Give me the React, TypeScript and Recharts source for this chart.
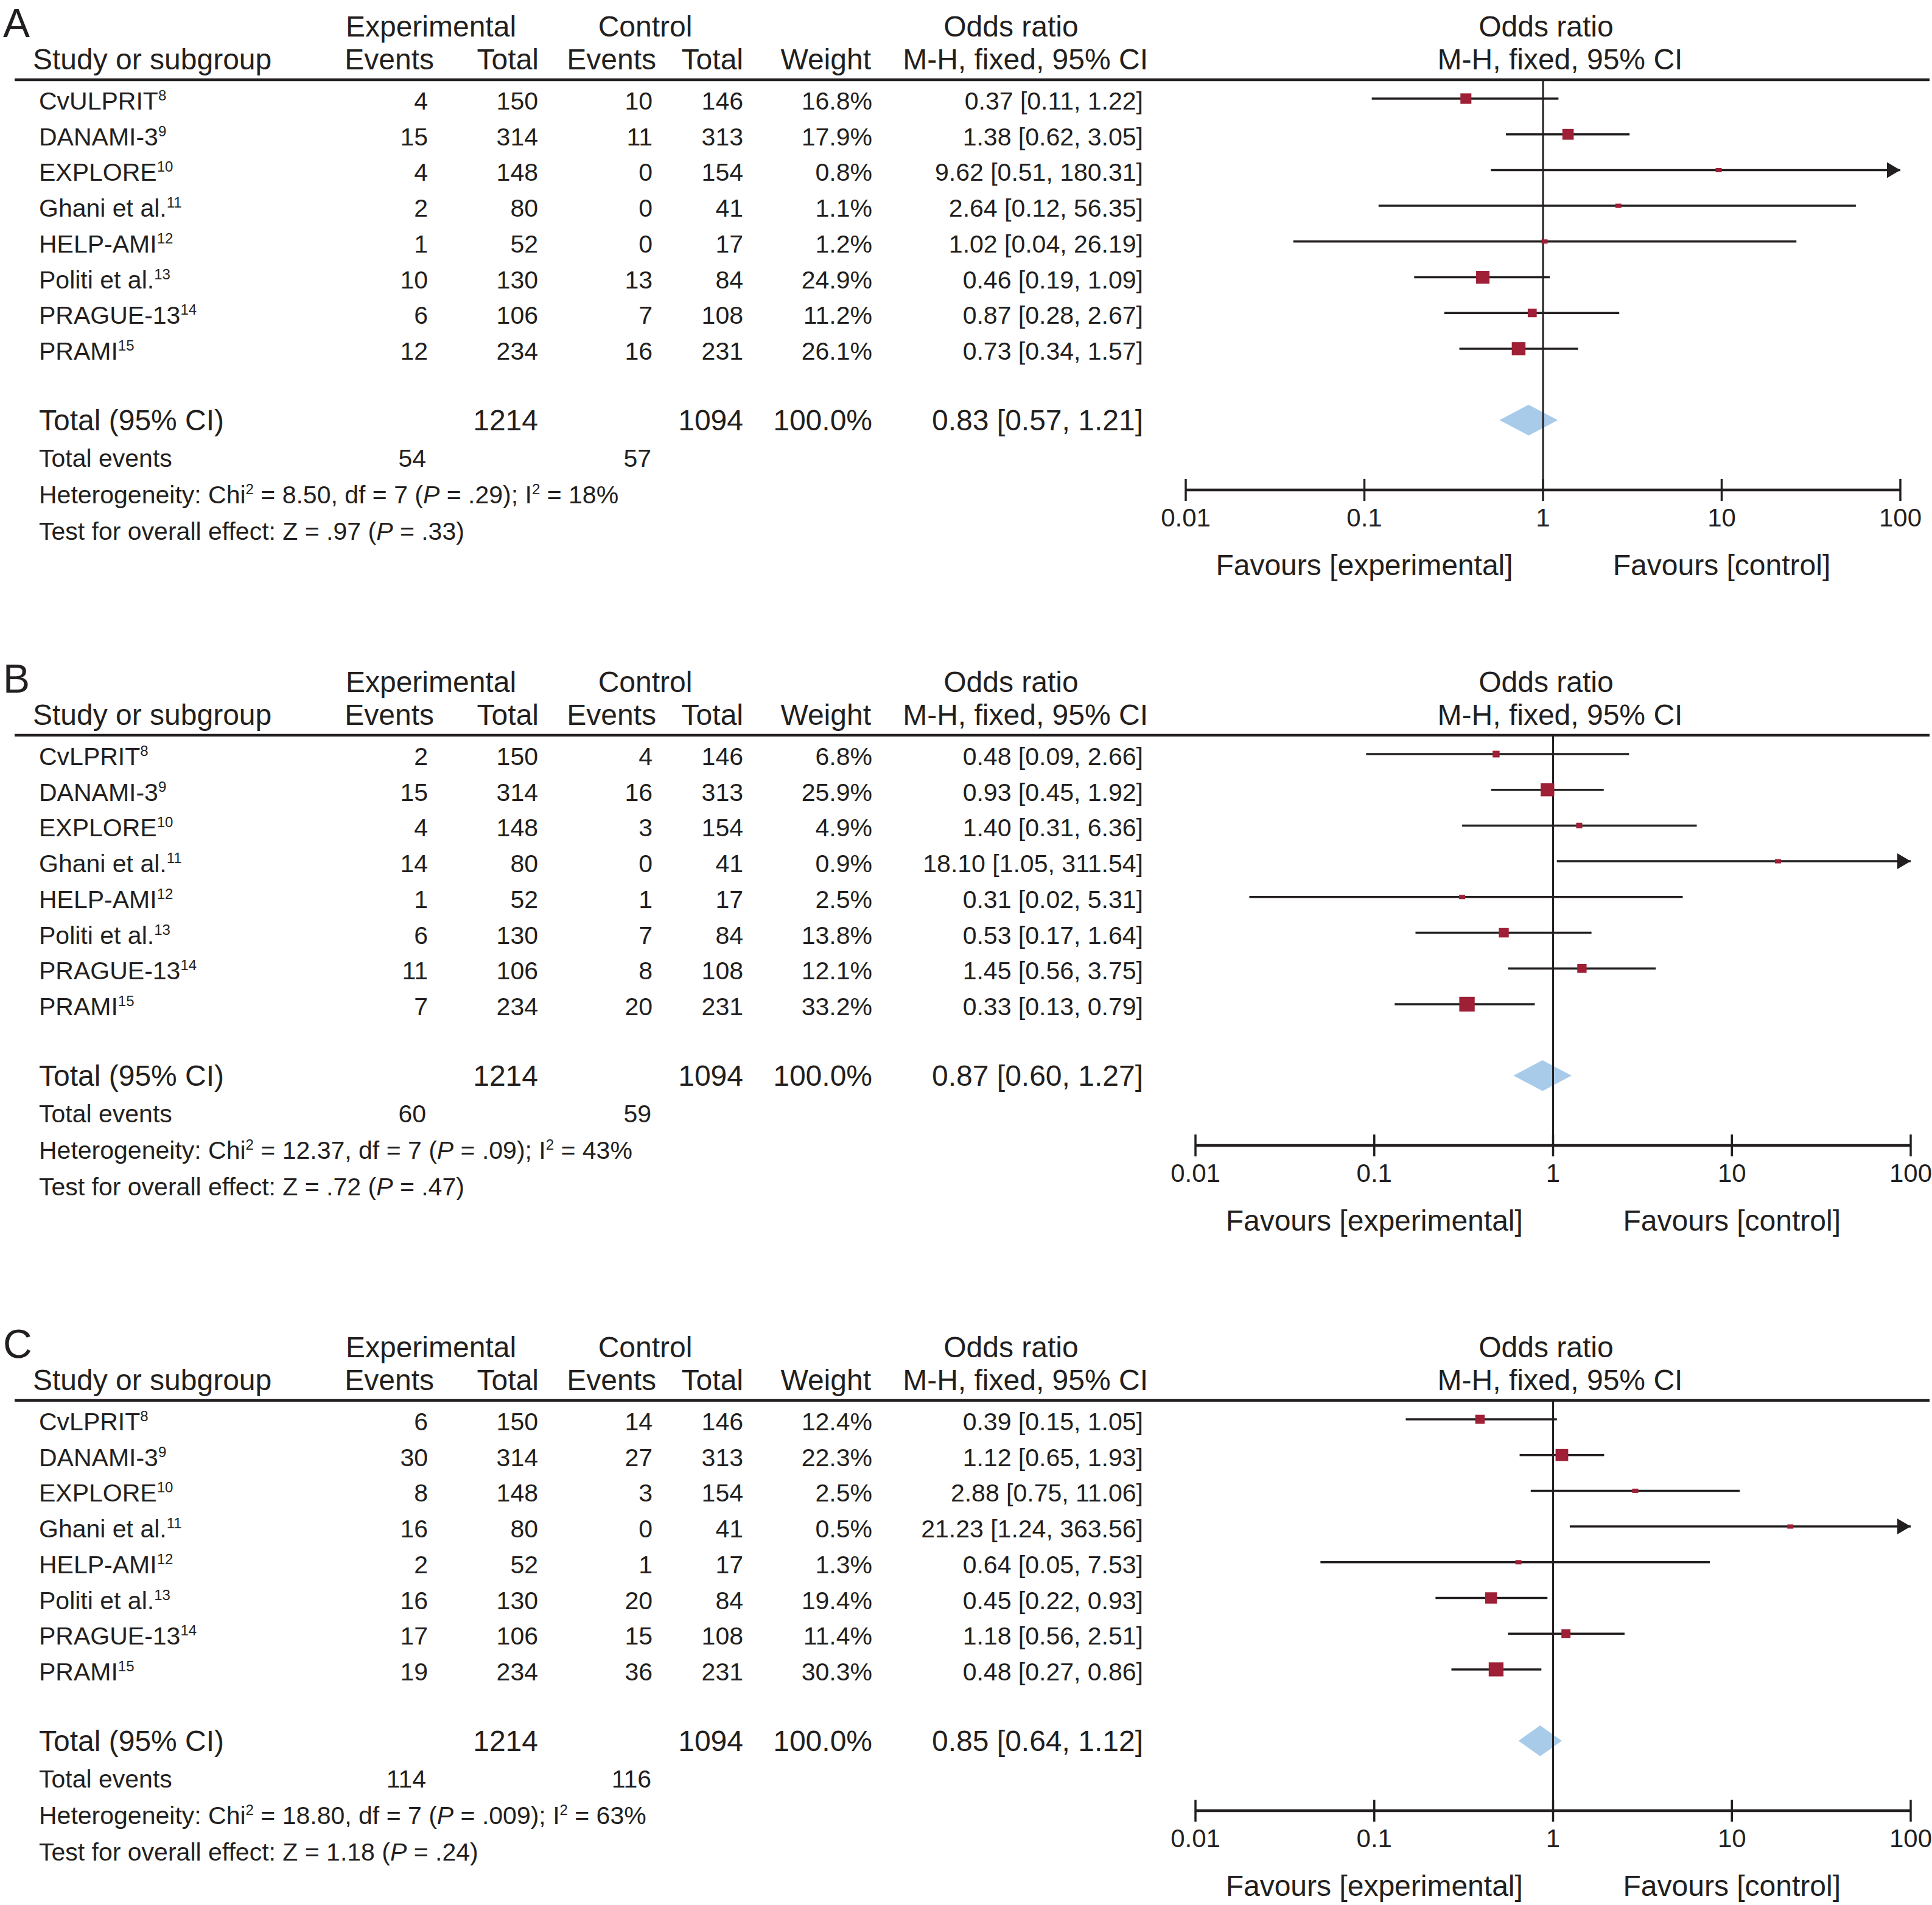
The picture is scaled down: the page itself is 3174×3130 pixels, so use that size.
import React from 'react';
import { ComposedChart, Scatter, XAxis, YAxis, ReferenceLine, ReferenceArea, Customized } from 'recharts';

// ---------- data ----------
const NAMES_A = ['CvULPRIT', 'DANAMI-3', 'EXPLORE', 'Ghani et al.', 'HELP-AMI', 'Politi et al.', 'PRAGUE-13', 'PRAMI'];
const NAMES_BC = ['CvLPRIT', 'DANAMI-3', 'EXPLORE', 'Ghani et al.', 'HELP-AMI', 'Politi et al.', 'PRAGUE-13', 'PRAMI'];
const REFS = ['8', '9', '10', '11', '12', '13', '14', '15'];
const EXP_TOTAL = [150, 314, 148, 80, 52, 130, 106, 234];
const CTL_TOTAL = [146, 313, 154, 41, 17, 84, 108, 231];
const SUM_EXP_TOTAL = 1214;
const SUM_CTL_TOTAL = 1094;

const A_EXP_EV = [4, 15, 4, 2, 1, 10, 6, 12];
const A_CTL_EV = [10, 11, 0, 0, 0, 13, 7, 16];
const A_WEIGHT = [16.8, 17.9, 0.8, 1.1, 1.2, 24.9, 11.2, 26.1];
const A_OR = [0.37, 1.38, 9.62, 2.64, 1.02, 0.46, 0.87, 0.73];
const A_LO = [0.11, 0.62, 0.51, 0.12, 0.04, 0.19, 0.28, 0.34];
const A_HI = [1.22, 3.05, 180.31, 56.35, 26.19, 1.09, 2.67, 1.57];
const A_TOTAL = [0.83, 0.57, 1.21];
const A_EVENTS = [54, 57];
const A_HET = ['8.50', '.29', '18%'];
const A_Z = ['.97', '.33'];

const B_EXP_EV = [2, 15, 4, 14, 1, 6, 11, 7];
const B_CTL_EV = [4, 16, 3, 0, 1, 7, 8, 20];
const B_WEIGHT = [6.8, 25.9, 4.9, 0.9, 2.5, 13.8, 12.1, 33.2];
const B_OR = [0.48, 0.93, 1.4, 18.1, 0.31, 0.53, 1.45, 0.33];
const B_LO = [0.09, 0.45, 0.31, 1.05, 0.02, 0.17, 0.56, 0.13];
const B_HI = [2.66, 1.92, 6.36, 311.54, 5.31, 1.64, 3.75, 0.79];
const B_TOTAL = [0.87, 0.6, 1.27];
const B_EVENTS = [60, 59];
const B_HET = ['12.37', '.09', '43%'];
const B_Z = ['.72', '.47'];

const C_EXP_EV = [6, 30, 8, 16, 2, 16, 17, 19];
const C_CTL_EV = [14, 27, 3, 0, 1, 20, 15, 36];
const C_WEIGHT = [12.4, 22.3, 2.5, 0.5, 1.3, 19.4, 11.4, 30.3];
const C_OR = [0.39, 1.12, 2.88, 21.23, 0.64, 0.45, 1.18, 0.48];
const C_LO = [0.15, 0.65, 0.75, 1.24, 0.05, 0.22, 0.56, 0.27];
const C_HI = [1.05, 1.93, 11.06, 363.56, 7.53, 0.93, 2.51, 0.86];
const C_TOTAL = [0.85, 0.64, 1.12];
const C_EVENTS = [114, 116];
const C_HET = ['18.80', '.009', '63%'];
const C_Z = ['1.18', '.24'];

const X_TICKS = [0.01, 0.1, 1, 10, 100];

// ---------- style / layout ----------
const INK = '#231f20';
const SQUARE = '#9e1f36';
const DIAMOND = '#a9cbea';
const FONT = '"Liberation Sans", Arial, Helvetica, sans-serif';
const W = 3174;
const PLOT_TOP = 131;
const PLOT_BOTTOM = 805;
const ROW0 = 162;
const ROWH = 58.7;
const TOTAL_ROW = 9;
const XAXIS_H = 150;
const Y_DOMAIN = [(PLOT_TOP - ROW0) / ROWH, (PLOT_BOTTOM - ROW0) / ROWH];
const rowY = (r: number) => ROW0 + r * ROWH;

const COL = { name: 64, expEv: 703, expTot: 884, ctlEv: 1072, ctlTot: 1221, weight: 1433, or: 1878 };

const PANELS = [
  { letter: 'A', top: 0, height: 1077, plotLeft: 1948, plotRight: 3122, names: NAMES_A, expEv: A_EXP_EV, ctlEv: A_CTL_EV, weight: A_WEIGHT, or: A_OR, lo: A_LO, hi: A_HI, total: A_TOTAL, events: A_EVENTS, het: A_HET, z: A_Z },
  { letter: 'B', top: 1077, height: 1077, plotLeft: 1964, plotRight: 3139, names: NAMES_BC, expEv: B_EXP_EV, ctlEv: B_CTL_EV, weight: B_WEIGHT, or: B_OR, lo: B_LO, hi: B_HI, total: B_TOTAL, events: B_EVENTS, het: B_HET, z: B_Z },
  { letter: 'C', top: 2170, height: 960, plotLeft: 1964, plotRight: 3139, names: NAMES_BC, expEv: C_EXP_EV, ctlEv: C_CTL_EV, weight: C_WEIGHT, or: C_OR, lo: C_LO, hi: C_HI, total: C_TOTAL, events: C_EVENTS, het: C_HET, z: C_Z },
];

const f2 = (v: number) => v.toFixed(2);
const orText = (o: number, l: number, h: number) => `${f2(o)} [${f2(l)}, ${f2(h)}]`;

function TableLayer({ p }: any) {
  const S = 41;
  const L = 48;
  const sup = (t: string) => (
    <tspan fontSize={24} dy={-15}>{t}</tspan>
  );
  const totY = rowY(TOTAL_ROW) + 17;
  return (
    <g fontFamily={FONT} fill={INK}>
      <text x={5} y={61} fontSize={66}>{p.letter}</text>
      <text x={708} y={60} fontSize={L} textAnchor="middle">Experimental</text>
      <text x={1060} y={60} fontSize={L} textAnchor="middle">Control</text>
      <text x={1661} y={60} fontSize={L} textAnchor="middle">Odds ratio</text>
      <text x={2540} y={60} fontSize={L} textAnchor="middle">Odds ratio</text>
      <text x={54} y={114} fontSize={L}>Study or subgroup</text>
      <text x={713} y={114} fontSize={L} textAnchor="end">Events</text>
      <text x={885} y={114} fontSize={L} textAnchor="end">Total</text>
      <text x={1078} y={114} fontSize={L} textAnchor="end">Events</text>
      <text x={1221} y={114} fontSize={L} textAnchor="end">Total</text>
      <text x={1431} y={114} fontSize={L} textAnchor="end">Weight</text>
      <text x={1886} y={114} fontSize={L} textAnchor="end">M-H, fixed, 95% CI</text>
      <text x={2563} y={114} fontSize={L} textAnchor="middle">M-H, fixed, 95% CI</text>
      <line x1={24} x2={3170} y1={PLOT_TOP} y2={PLOT_TOP} stroke={INK} strokeWidth={4.5} />
      {p.names.map((n: string, i: number) => {
        const y = rowY(i) + 18;
        return (
          <g key={i}>
            <text x={COL.name} y={y} fontSize={S}>{n}{sup(REFS[i])}</text>
            <text x={COL.expEv} y={y} fontSize={S} textAnchor="end">{p.expEv[i]}</text>
            <text x={COL.expTot} y={y} fontSize={S} textAnchor="end">{EXP_TOTAL[i]}</text>
            <text x={COL.ctlEv} y={y} fontSize={S} textAnchor="end">{p.ctlEv[i]}</text>
            <text x={COL.ctlTot} y={y} fontSize={S} textAnchor="end">{CTL_TOTAL[i]}</text>
            <text x={COL.weight} y={y} fontSize={S} textAnchor="end">{p.weight[i].toFixed(1)}%</text>
            <text x={COL.or} y={y} fontSize={S} textAnchor="end">{orText(p.or[i], p.lo[i], p.hi[i])}</text>
          </g>
        );
      })}
      <text x={COL.name} y={totY} fontSize={L}>Total (95% CI)</text>
      <text x={COL.expTot} y={totY} fontSize={L} textAnchor="end">{SUM_EXP_TOTAL}</text>
      <text x={COL.ctlTot} y={totY} fontSize={L} textAnchor="end">{SUM_CTL_TOTAL}</text>
      <text x={COL.weight} y={totY} fontSize={L} textAnchor="end">100.0%</text>
      <text x={COL.or} y={totY} fontSize={L} textAnchor="end">{orText(p.total[0], p.total[1], p.total[2])}</text>
      <text x={COL.name} y={767} fontSize={S}>Total events</text>
      <text x={COL.expEv - 3} y={767} fontSize={S} textAnchor="end">{p.events[0]}</text>
      <text x={COL.ctlEv - 2} y={767} fontSize={S} textAnchor="end">{p.events[1]}</text>
      <text x={COL.name} y={827} fontSize={S}>
        Heterogeneity: Chi<tspan fontSize={24} dy={-15}>2</tspan>
        <tspan dy={15}>{` = ${p.het[0]}, df = 7 (`}</tspan>
        <tspan fontStyle="italic">P</tspan>
        <tspan>{` = ${p.het[1]}); I`}</tspan>
        <tspan fontSize={24} dy={-15}>2</tspan>
        <tspan dy={15}>{` = ${p.het[2]}`}</tspan>
      </text>
      <text x={COL.name} y={887} fontSize={S}>
        {`Test for overall effect: Z = ${p.z[0]} (`}
        <tspan fontStyle="italic">P</tspan>
        {` = ${p.z[1]})`}
      </text>
    </g>
  );
}

const AxisTick = (props: any) => {
  const { x, y, payload } = props;
  const v = payload.value;
  return (
    <g fontFamily={FONT} fill={INK}>
      <line x1={x} x2={x} y1={y - 18} y2={y + 18} stroke={INK} strokeWidth={3.5} />
      <text x={x} y={y + 60} fontSize={42} textAnchor="middle">{String(v)}</text>
      {v === 0.1 && <text x={x} y={y + 140} fontSize={48} textAnchor="middle">Favours [experimental]</text>}
      {v === 10 && <text x={x} y={y + 140} fontSize={48} textAnchor="middle">Favours [control]</text>}
    </g>
  );
};

const SquareShape = (props: any) => {
  const { cx, cy, payload } = props;
  const w = Math.max(10, 4.4 * Math.sqrt(payload.w));
  const h = Math.max(7, 4.2 * Math.sqrt(payload.w));
  return <rect x={cx - w / 2} y={cy - h / 2} width={w} height={h} fill={SQUARE} />;
};

const ArrowShape = (props: any) => {
  const { cx, cy } = props;
  return <polygon points={`${cx},${cy} ${cx - 22},${cy - 13} ${cx - 22},${cy + 13}`} fill={INK} />;
};

const DiamondShape = (props: any) => {
  const { x, y, width, height } = props;
  const mx = x + width / 2;
  const my = y + height / 2;
  return <polygon points={`${x},${my} ${mx},${y} ${x + width},${my} ${mx},${y + height}`} fill={DIAMOND} />;
};

function Panel({ p }: any) {
  const H = p.height;
  const pts = p.or.map((v: number, i: number) => ({ or: v, row: i, w: p.weight[i] }));
  const arrows = p.hi
    .map((h: number, i: number) => (h > X_TICKS[4] ? { or: X_TICKS[4], row: i } : null))
    .filter(Boolean);
  return (
    <ComposedChart
      width={W}
      height={H}
      margin={{ top: PLOT_TOP, bottom: H - PLOT_BOTTOM - XAXIS_H, left: p.plotLeft, right: W - p.plotRight }}
    >
      <XAxis
        type="number"
        dataKey="or"
        scale="log"
        domain={[X_TICKS[0], X_TICKS[4]]}
        ticks={X_TICKS}
        allowDataOverflow
        interval={0}
        tickLine={false}
        tickSize={0}
        tickMargin={0}
        axisLine={{ stroke: INK, strokeWidth: 4.5 }}
        tick={AxisTick}
        height={XAXIS_H}
      />
      <YAxis type="number" dataKey="row" domain={Y_DOMAIN} reversed hide allowDataOverflow />
      <Customized component={<TableLayer p={p} />} />
      <ReferenceArea
        x1={p.total[1]}
        x2={p.total[2]}
        y1={TOTAL_ROW - 0.43}
        y2={TOTAL_ROW + 0.43}
        shape={DiamondShape}
      />
      {p.lo.map((lo: number, i: number) => (
        <ReferenceLine
          key={'ci' + i}
          segment={[{ x: lo, y: i }, { x: p.hi[i], y: i }]}
          stroke={INK}
          strokeWidth={3.5}
          ifOverflow="hidden"
        />
      ))}
      <ReferenceLine x={1} stroke={INK} strokeWidth={3} />
      <Scatter data={pts} shape={SquareShape} isAnimationActive={false} />
      <Scatter data={arrows} shape={ArrowShape} isAnimationActive={false} />
    </ComposedChart>
  );
}

export default function App() {
  return (
    <div style={{ position: 'relative', width: W, height: 3130, background: '#fff' }}>
      <style>{'body{margin:0;background:#fff}'}</style>
      {PANELS.map((p, k) => (
        <div key={k} style={{ position: 'absolute', left: 0, top: p.top }}>
          <Panel p={p} />
        </div>
      ))}
    </div>
  );
}
